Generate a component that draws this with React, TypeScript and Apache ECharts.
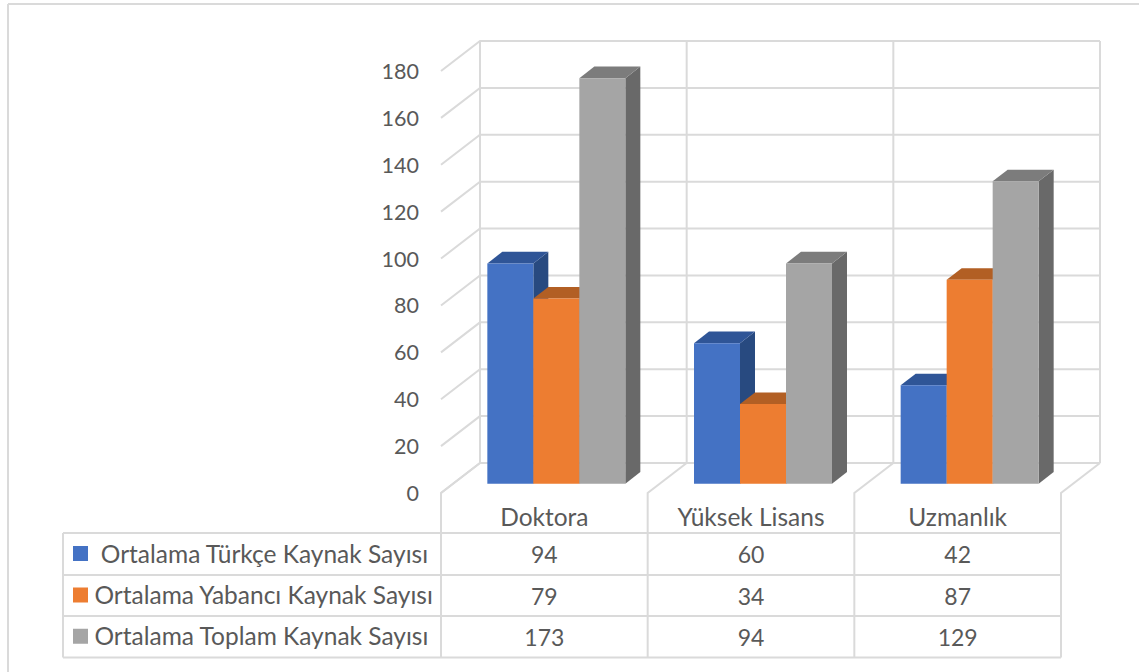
import React, { useEffect, useRef } from "react";
import * as echarts from "echarts";

const categories = ["Doktora", "Yüksek Lisans", "Uzmanlık"];
const seriesNames = [
  " Ortalama Türkçe Kaynak Sayısı",
  "Ortalama Yabancı Kaynak Sayısı",
  "Ortalama Toplam Kaynak Sayısı",
];
const turkce = [94, 60, 42];
const yabanci = [79, 34, 87];
const toplam = [173, 94, 129];
const allValues = [turkce, yabanci, toplam];
const yTicks = [0, 20, 40, 60, 80, 100, 120, 140, 160, 180];

const frontColors = ["#4472C4", "#ED7D31", "#A5A5A5"];
const topColors = ["#2F5597", "#B25F24", "#7C7C7C"];
const sideColors = ["#284A80", "#8C4A1C", "#696969"];

const GRID_COLOR = "#DADADA";
const TEXT_COLOR = "#595959";
const FONT = "Lato, 'Noto Sans', sans-serif";
const NUMBER_SIZE = 21.5;
const CELL_SIZE = 23;
const LABEL_SIZE = 24.5;

const GRID_L = 441, GRID_R = 1061, GRID_T = 71, GRID_B = 493;
const WALL_DX = 39, WALL_DY = 30;
const BAR_W = 46, BAR_SHIFT_X = 12, BAR_SHIFT_Y = 9.2, DEPTH_X = 15, DEPTH_Y = 11.7;
const ROWS = [533, 575, 616, 657.5];
const TABLE_L = 63;
const LABEL_X = 94.5;
const KEY_X = 73, KEY_SIZE = 15;

const lineStyle = { stroke: GRID_COLOR, lineWidth: 2, fill: "none" };

function wallItem(params: any, api: any) {
  const v = api.value(0);
  const y = api.coord([0, v])[1];
  const left = api.coord([0, 0])[0] - (GRID_R - GRID_L) / categories.length / 2;
  const right = left + (GRID_R - GRID_L);
  const children: any[] = [
    {
      type: "polyline",
      shape: { points: [[left, y], [left + WALL_DX, y - WALL_DY], [right + WALL_DX, y - WALL_DY]] },
      style: lineStyle,
    },
  ];
  if (v === 0) {
    const top = api.coord([0, yTicks[yTicks.length - 1]])[1] - WALL_DY;
    const bottomY = y - WALL_DY;
    for (let i = 0; i <= categories.length; i++) {
      const fx = left + ((right - left) * i) / categories.length;
      children.push({
        type: "line",
        shape: { x1: fx + WALL_DX, y1: top, x2: fx + WALL_DX, y2: bottomY },
        style: lineStyle,
      });
      children.push({
        type: "polyline",
        shape: { points: [[fx, ROWS[0]], [fx, y], [fx + WALL_DX, bottomY]] },
        style: lineStyle,
      });
    }
  }
  return { type: "group", children };
}

function barItem(seriesIndex: number) {
  return (params: any, api: any) => {
    const cat = api.value(0);
    const val = api.value(1);
    const cx = api.coord([cat, 0])[0] + BAR_SHIFT_X + (seriesIndex - 1) * BAR_W;
    const x0 = cx - BAR_W / 2;
    const x1 = cx + BAR_W / 2;
    const yb = api.coord([cat, 0])[1] - BAR_SHIFT_Y;
    const yt = api.coord([cat, val])[1] - BAR_SHIFT_Y;
    return {
      type: "group",
      children: [
        {
          type: "polygon",
          shape: { points: [[x1, yb], [x1 + DEPTH_X, yb - DEPTH_Y], [x1 + DEPTH_X, yt - DEPTH_Y], [x1, yt]] },
          style: { fill: sideColors[seriesIndex] },
        },
        {
          type: "polygon",
          shape: { points: [[x0, yt], [x0 + DEPTH_X, yt - DEPTH_Y], [x1 + DEPTH_X, yt - DEPTH_Y], [x1, yt]] },
          style: { fill: topColors[seriesIndex] },
        },
        { type: "rect", shape: { x: x0, y: yt, width: BAR_W, height: yb - yt }, style: { fill: frontColors[seriesIndex] } },
      ],
    };
  };
}

function tableGraphics() {
  const els: any[] = [];
  const line = (x1: number, y1: number, x2: number, y2: number) =>
    els.push({ type: "line", shape: { x1, y1, x2, y2 }, style: { stroke: GRID_COLOR, lineWidth: 2 } });
  // outer frame of the picture
  line(8, 4, 1139, 4);
  line(8, 4, 8, 672);
  ROWS.forEach((y) => line(TABLE_L, y, GRID_R, y));
  line(TABLE_L, ROWS[0], TABLE_L, ROWS[3]);
  const step = (GRID_R - GRID_L) / categories.length;
  for (let i = 0; i <= categories.length; i++) {
    line(GRID_L + step * i, ROWS[0], GRID_L + step * i, ROWS[3]);
  }
  seriesNames.forEach((name, r) => {
    const cy = (ROWS[r] + ROWS[r + 1]) / 2 - 1;
    els.push({
      type: "rect",
      shape: { x: KEY_X, y: cy - KEY_SIZE / 2 + 0.5, width: KEY_SIZE, height: KEY_SIZE },
      style: { fill: frontColors[r] },
    });
    els.push({
      type: "text",
      x: LABEL_X,
      y: cy,
      style: { text: name, fill: TEXT_COLOR, font: `${LABEL_SIZE}px ${FONT}`, textAlign: "left", textVerticalAlign: "middle" },
    });
    allValues[r].forEach((v, c) => {
      els.push({
        type: "text",
        x: GRID_L + step * (c + 0.5),
        y: cy + 1,
        style: { text: String(v), fill: TEXT_COLOR, font: `${CELL_SIZE}px ${FONT}`, textAlign: "center", textVerticalAlign: "middle" },
      });
    });
  });
  return els;
}

export default function App() {
  const ref = useRef<HTMLDivElement>(null);
  useEffect(() => {
    document.body.style.margin = "0";
    const chart = echarts.init(ref.current!, null, { renderer: "svg" });
    chart.setOption({
      animation: false,
      backgroundColor: "#ffffff",
      textStyle: { fontFamily: FONT },
      grid: { left: GRID_L, top: GRID_T, width: GRID_R - GRID_L, height: GRID_B - GRID_T, containLabel: false },
      xAxis: {
        type: "category",
        data: categories,
        axisLine: { show: false },
        axisTick: { show: false },
        axisLabel: { color: TEXT_COLOR, fontSize: LABEL_SIZE, fontFamily: FONT, margin: 11, interval: 0 },
      },
      yAxis: {
        type: "value",
        min: 0,
        max: 180,
        interval: 20,
        axisLine: { show: false },
        axisTick: { show: false },
        splitLine: { show: false },
        axisLabel: { color: TEXT_COLOR, fontSize: NUMBER_SIZE, fontFamily: FONT, margin: 22, padding: [0, 0, 4, 0] },
      },
      graphic: tableGraphics(),
      series: [
        {
          type: "custom",
          name: "walls",
          silent: true,
          z: 1,
          data: yTicks.map((t) => [t]),
          encode: { y: 0 },
          renderItem: wallItem,
        },
        ...seriesNames.map((name, s) => ({
          type: "custom",
          name,
          z: 2 + s,
          data: allValues[s].map((v, i) => [i, v]),
          encode: { x: 0, y: 1 },
          renderItem: barItem(s),
        })),
      ],
    });
    return () => chart.dispose();
  }, []);
  return <div ref={ref} style={{ position: "absolute", left: 0, top: 0, width: 1139, height: 672 }} />;
}
